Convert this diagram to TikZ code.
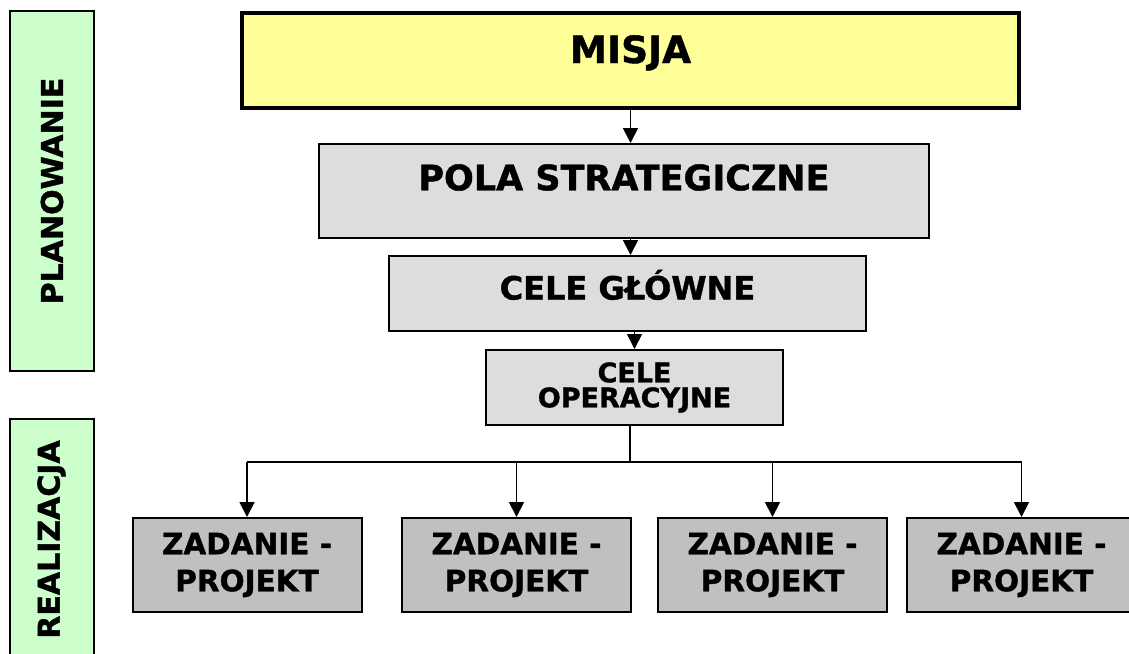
\documentclass[tikz,border=0pt]{standalone}
\usepackage{fontspec}
\setmainfont{DejaVu Sans}[BoldFeatures={FakeBold=1.2}]
\usepackage{xcolor}
\usepackage{tikz}
\usetikzlibrary{arrows.meta}

\definecolor{zolty}{HTML}{FFFF99}
\definecolor{jasnoszary}{HTML}{DDDDDD}
\definecolor{szary}{HTML}{C0C0C0}
\definecolor{zielony}{HTML}{CCFFCC}

\tikzset{
  blok/.style={rectangle, draw=black, line width=2pt, align=center, inner sep=0pt},
  poziom/.style={blok, fill=jasnoszary},
  zadanie/.style={blok, fill=szary, minimum width=229pt, minimum height=94pt,
    font=\bfseries\fontsize{29.5}{37}\selectfont},
  etap/.style={blok, fill=zielony, rotate=90, minimum height=84pt,
    font=\bfseries\fontsize{30}{36}\selectfont},
  strzalka/.style={-{Triangle[width=15pt,length=15pt]}, line width=1.8pt}
}

\begin{document}
\begin{tikzpicture}[x=1pt,y=-1pt]
\useasboundingbox (0,0) rectangle (1129,653);

% etapy
\node (plan) [etap, minimum width=360pt] at (52,191) {PLANOWANIE};
\node (real) [etap, minimum width=241pt] at (51.5,539.5) {REALIZACJA};

% hierarchia
\node (misja) [blok, fill=zolty, line width=3.5pt, minimum width=777pt, minimum height=95pt,
  text height=27pt, text depth=22pt, font=\bfseries\fontsize{37.5}{44}\selectfont] at (630.5,60.5) {MISJA};
\node (pola) [poziom, minimum width=610pt, minimum height=94pt,
  text height=25.5pt, text depth=27pt, font=\bfseries\fontsize{35}{42}\selectfont] at (624,191) {POLA STRATEGICZNE};
\node (cgl) [poziom, minimum width=477pt, minimum height=75pt,
  text height=23pt, text depth=11pt, font=\bfseries\fontsize{32}{38}\selectfont] at (627.5,293.5) {CELE GŁÓWNE};
\node (cop) [poziom, minimum width=297pt, minimum height=75pt,
  font=\bfseries\fontsize{27}{25}\selectfont] at (634.5,387.5) {CELE\\OPERACYJNE};

% zadania
\node (z1) [zadanie] at (247,565) {ZADANIE -\\PROJEKT};
\node (z2) [zadanie] at (516.5,565) {ZADANIE -\\PROJEKT};
\node (z3) [zadanie] at (772.5,565) {ZADANIE -\\PROJEKT};
\node (z4) [zadanie] at (1021.5,565) {ZADANIE -\\PROJEKT};

\coordinate (rozg) at (630,462);

\draw[strzalka] (misja.south) -- (misja.south |- pola.north);
\draw[strzalka] (misja.south |- pola.south) -- (misja.south |- cgl.north);
\draw[strzalka] (cop.north |- cgl.south) -- (cop.north);
\draw[line width=1.8pt] (cop.south -| rozg) -- (rozg);
\draw[line width=1.8pt] (z1.north |- rozg) -- (z4.north |- rozg);
\foreach \z in {z1,z2,z3,z4}
  \draw[strzalka] (\z.north |- rozg) -- (\z.north);
\end{tikzpicture}
\end{document}
